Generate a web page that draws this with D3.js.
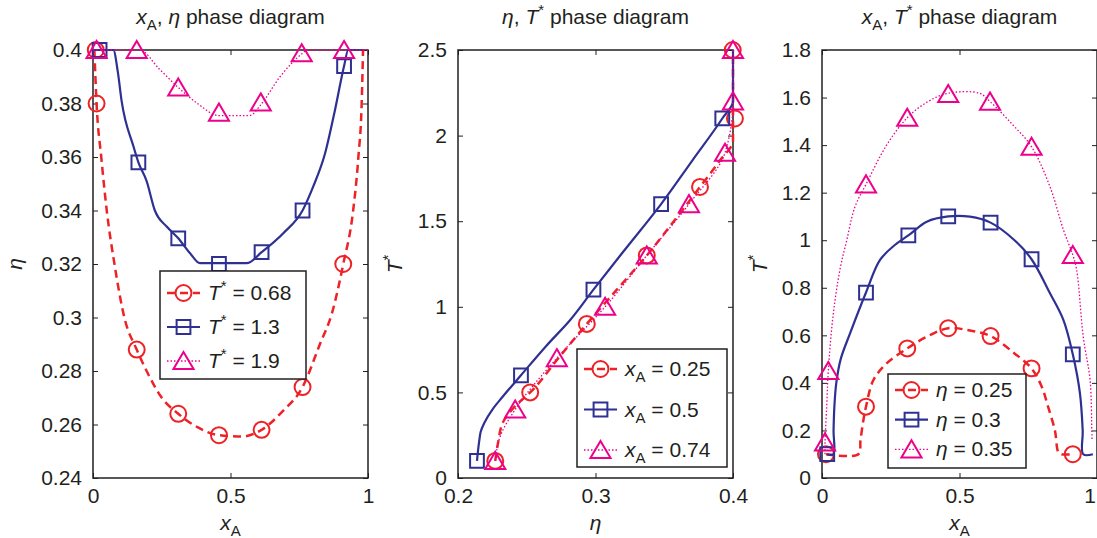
<!DOCTYPE html>
<html>
<head>
<meta charset="utf-8">
<script src="https://cdn.jsdelivr.net/npm/d3@7"></script>
<style>
  body { margin: 0; background: #fff; }
  svg { display: block; }
  text { font-family: "Liberation Sans", Arial, sans-serif; fill: #231f20; }
</style>
</head>
<body>
<div id="chart"></div>
<script>
// ---- panel 1: x_A vs eta ----
const p1XTicks = [0, 0.5, 1]
const p1YTicks = [0.24, 0.26, 0.28, 0.3, 0.32, 0.34, 0.36, 0.38, 0.4]
const p1Legend = ["0.68", "1.3", "1.9"]
const p1RedMarkX = [0.01, 0.013, 0.159, 0.31, 0.458, 0.613, 0.762, 0.91]
const p1RedMarkY = [0.4, 0.38, 0.288, 0.264, 0.256, 0.258, 0.274, 0.32]
const p1RedCurve = [[0.005, 0.4], [0.013, 0.38], [0.03, 0.36], [0.05, 0.34], [0.078, 0.32], [0.114, 0.3], [0.159, 0.288], [0.195, 0.28], [0.25, 0.27], [0.31, 0.264], [0.38, 0.259], [0.458, 0.256], [0.54, 0.2555], [0.613, 0.258], [0.69, 0.265], [0.762, 0.274], [0.825, 0.29], [0.87, 0.302], [0.91, 0.32], [0.946, 0.34], [0.965, 0.36], [0.977, 0.38], [0.982, 0.4]]
const p1BlueMarkX = [0.024, 0.165, 0.31, 0.458, 0.613, 0.762, 0.913]
const p1BlueMarkY = [0.4, 0.358, 0.3296, 0.32, 0.3244, 0.34, 0.394]
const p1BlueCurve = [[0, 0.4], [0.074, 0.4], [0.09, 0.392], [0.104, 0.381], [0.147, 0.364], [0.165, 0.358], [0.195, 0.351], [0.225, 0.34], [0.268, 0.334], [0.31, 0.3296], [0.353, 0.324], [0.389, 0.3203], [0.559, 0.3203], [0.613, 0.3244], [0.692, 0.3315], [0.762, 0.34], [0.801, 0.349], [0.844, 0.3614], [0.88, 0.3776], [0.913, 0.394], [0.928, 0.4], [0.98, 0.4]]
const p1MagMarkX = [0.013, 0.159, 0.31, 0.458, 0.61, 0.759, 0.913]
const p1MagMarkY = [0.4, 0.4, 0.386, 0.3766, 0.3804, 0.3988, 0.4]
const p1MagCurve = [[0, 0.4], [0.17, 0.4], [0.24, 0.393], [0.31, 0.386], [0.38, 0.38], [0.458, 0.3755], [0.57, 0.3755], [0.61, 0.3795], [0.68, 0.39], [0.759, 0.3985], [0.78, 0.4], [1, 0.4]]

// ---- panel 2: eta vs T* ----
const p2XTicks = [0.2, 0.3, 0.4]
const p2YTicks = [0, 0.5, 1, 1.5, 2, 2.5]
const p2Legend = ["0.25", "0.5", "0.74"]
const p2RedMarkX = [0.2271, 0.2525, 0.2937, 0.3373, 0.376, 0.4014, 0.3998]
const p2RedMarkY = [0.1, 0.5, 0.9, 1.3, 1.7, 2.1, 2.5]
const p2RedCurve = [[0.2271, 0.1], [0.229, 0.2], [0.233, 0.33], [0.2416, 0.42], [0.2525, 0.5], [0.273, 0.7], [0.2937, 0.9], [0.3155, 1.1], [0.3373, 1.3], [0.357, 1.5], [0.376, 1.7], [0.39, 1.85], [0.4, 1.97], [0.4, 2.5]]
const p2BlueMarkX = [0.2138, 0.2458, 0.2985, 0.3477, 0.3922]
const p2BlueMarkY = [0.1, 0.6, 1.1, 1.6, 2.1]
const p2BlueCurve = [[0.2138, 0.1], [0.2155, 0.22], [0.2165, 0.27], [0.219, 0.32], [0.225, 0.4], [0.232, 0.47], [0.2458, 0.6], [0.264, 0.77], [0.2816, 0.923], [0.2985, 1.1], [0.32, 1.32], [0.3477, 1.6], [0.37, 1.85], [0.3922, 2.1], [0.4, 2.2], [0.4, 2.5]]
const p2MagMarkX = [0.2271, 0.2416, 0.2719, 0.307, 0.3373, 0.368, 0.3942, 0.4, 0.4]
const p2MagMarkY = [0.1, 0.4, 0.7, 1.0, 1.3, 1.6, 1.9, 2.2, 2.5]
const p2MagCurve = [[0.2271, 0.1], [0.231, 0.25], [0.2416, 0.4], [0.2719, 0.7], [0.307, 1.0], [0.3373, 1.3], [0.368, 1.6], [0.3942, 1.9], [0.4, 2.2], [0.4, 2.5]]

// ---- panel 3: x_A vs T* ----
const p3XTicks = [0, 0.5, 1]
const p3YTicks = [0, 0.2, 0.4, 0.6, 0.8, 1, 1.2, 1.4, 1.6, 1.8]
const p3Legend = ["0.25", "0.3", "0.35"]
const p3RedMarkX = [0.0145, 0.16, 0.31, 0.459, 0.613, 0.762, 0.912]
const p3RedMarkY = [0.1, 0.3, 0.545, 0.63, 0.597, 0.461, 0.1]
const p3RedCurve = [[0.0145, 0.1], [0.132, 0.1], [0.14, 0.16], [0.15, 0.24], [0.16, 0.3], [0.187, 0.412], [0.235, 0.482], [0.31, 0.545], [0.381, 0.594], [0.459, 0.63], [0.538, 0.62], [0.613, 0.597], [0.7, 0.524], [0.762, 0.461], [0.799, 0.384], [0.822, 0.3], [0.847, 0.2], [0.859, 0.11], [0.87, 0.1], [0.912, 0.1]]
const p3BlueMarkX = [0.019, 0.16, 0.314, 0.459, 0.613, 0.762, 0.912]
const p3BlueMarkY = [0.1, 0.78, 1.02, 1.1, 1.074, 0.92, 0.52]
const p3BlueCurve = [[0.019, 0.1], [0.041, 0.1], [0.042, 0.2], [0.045, 0.3], [0.052, 0.4], [0.068, 0.5], [0.102, 0.608], [0.16, 0.78], [0.211, 0.917], [0.265, 0.98], [0.314, 1.02], [0.381, 1.078], [0.459, 1.1], [0.538, 1.099], [0.613, 1.074], [0.7, 1.0], [0.762, 0.92], [0.829, 0.777], [0.878, 0.664], [0.912, 0.52], [0.938, 0.356], [0.948, 0.2], [0.95, 0.1], [0.985, 0.1]]
const p3MagMarkX = [0.011, 0.023, 0.16, 0.31, 0.459, 0.611, 0.762, 0.912]
const p3MagMarkY = [0.15, 0.45, 1.235, 1.515, 1.615, 1.583, 1.393, 0.938]
const p3MagCurve = [[0.011, 0.1], [0.011, 0.15], [0.017, 0.3], [0.023, 0.45], [0.04, 0.68], [0.065, 0.875], [0.09, 1.0], [0.12, 1.141], [0.16, 1.235], [0.235, 1.4], [0.31, 1.515], [0.381, 1.58], [0.459, 1.618], [0.573, 1.618], [0.611, 1.583], [0.69, 1.49], [0.762, 1.393], [0.829, 1.225], [0.878, 1.043], [0.912, 0.938], [0.926, 0.875], [0.95, 0.594], [0.975, 0.41], [0.981, 0.2], [0.982, 0.16]]

const RED = "#ee2226", BLUE = "#2e3192", MAG = "#ec008c"
const width = 1097, height = 538
const plotTop = 50, plotBottom = 478
const FONT = "21px"

const svg = d3.select("#chart").append("svg")
  .attr("width", width)
  .attr("height", height)

// custom triangle so the marker is centred on its box like matlab's '^'
const triangleSym = {
  draw(ctx, size) {
    const w = Math.sqrt(size) * 0.75
    ctx.moveTo(0, -w * 0.9)
    ctx.lineTo(w, w * 0.8)
    ctx.lineTo(-w, w * 0.8)
    ctx.closePath()
  }
}
const markerPath = {
  circle: d3.symbol(d3.symbolCircle, 200)(),
  square: d3.symbol(d3.symbolSquare, 190)(),
  triangle: d3.symbol(triangleSym, 180)()
}
const lineStyle = {
  red: { color: RED, width: 2.5, dash: "8,5", marker: "circle" },
  blue: { color: BLUE, width: 2.2, dash: null, marker: "square" },
  mag: { color: MAG, width: 1.3, dash: "1.5,2", marker: "triangle" }
}

// text with italic / sub / sup pieces
function rich(textSel, parts) {
  let shift = 0
  parts.forEach(([t, k]) => {
    const target = k === "sub" ? 6 : k === "sup" ? -9 : 0
    const ts = textSel.append("tspan").text(t).attr("dy", target - shift)
    if (k === "i") ts.attr("font-style", "italic")
    if (k === "sub" || k === "sup") ts.attr("font-size", "15px")
    shift = target
  })
}

const fmt = d => String(+d.toFixed(2))

function drawPanel(cfg) {
  const x = d3.scaleLinear().domain(cfg.xDomain).range([cfg.left, cfg.right])
  const y = d3.scaleLinear().domain(cfg.yDomain).range([plotBottom, plotTop])
  const g = svg.append("g")

  // box
  g.append("rect")
    .attr("x", cfg.left).attr("y", plotTop)
    .attr("width", cfg.right - cfg.left).attr("height", plotBottom - plotTop)
    .attr("fill", "none").attr("stroke", "#231f20").attr("stroke-width", 1.5)

  const styleAxis = a => {
    a.select(".domain").remove()
    a.selectAll("line").attr("stroke", "#231f20").attr("stroke-width", 1)
    a.selectAll("text").attr("font-size", FONT).attr("fill", "#231f20")
      .attr("font-family", "Liberation Sans, Arial, sans-serif")
  }

  const xAxis = g.append("g").attr("transform", `translate(0,${plotBottom})`)
    .call(d3.axisBottom(x).tickValues(cfg.xTicks).tickFormat(fmt).tickSizeInner(-5).tickSizeOuter(0).tickPadding(10))
    .call(styleAxis)
  // a label sitting on the window edge is pulled inside it
  xAxis.selectAll(".tick text")
    .filter(d => x(d) >= width - 2)
    .attr("text-anchor", "end").attr("dx", -1.5)
  g.append("g").attr("transform", `translate(0,${plotTop})`)
    .call(d3.axisTop(x).tickValues(cfg.xTicks).tickFormat("").tickSizeInner(-5).tickSizeOuter(0))
    .call(styleAxis)
  g.append("g").attr("transform", `translate(${cfg.left},0)`)
    .call(d3.axisLeft(y).tickValues(cfg.yTicks).tickFormat(fmt).tickSizeInner(-5).tickSizeOuter(0).tickPadding(11))
    .call(styleAxis)
  g.append("g").attr("transform", `translate(${cfg.right},0)`)
    .call(d3.axisRight(y).tickValues(cfg.yTicks).tickFormat("").tickSizeInner(-5).tickSizeOuter(0))
    .call(styleAxis)

  // title and axis labels
  rich(g.append("text").attr("x", (cfg.left + cfg.right) / 2).attr("y", 24)
    .attr("text-anchor", "middle").attr("font-size", FONT), cfg.title)
  rich(g.append("text").attr("x", (cfg.left + cfg.right) / 2).attr("y", 530)
    .attr("text-anchor", "middle").attr("font-size", FONT), cfg.xLabel)
  rich(g.append("text")
    .attr("transform", `translate(${cfg.yLabelX},${(plotTop + plotBottom) / 2}) rotate(-90)`)
    .attr("text-anchor", "middle").attr("font-size", FONT), cfg.yLabel)

  const line = d3.line().x(d => x(d[0])).y(d => y(d[1])).curve(cfg.curve)

  cfg.series.forEach(s => {
    const st = lineStyle[s.style]
    g.append("path")
      .datum(s.curve)
      .attr("fill", "none")
      .attr("stroke", st.color)
      .attr("stroke-width", st.width)
      .attr("stroke-dasharray", st.dash)
      .attr("d", line)
    g.selectAll(null)
      .data(d3.zip(s.mx, s.my))
      .enter()
      .append("path")
      .attr("transform", d => `translate(${x(d[0])},${y(d[1])})`)
      .attr("d", markerPath[st.marker])
      .attr("fill", "none")
      .attr("stroke", st.color)
      .attr("stroke-width", 2)
  })

  // legend
  const L = cfg.legend
  const lg = g.append("g")
  lg.append("rect")
    .attr("x", L.x).attr("y", L.y).attr("width", L.w).attr("height", L.h)
    .attr("fill", "#fff").attr("stroke", "#231f20").attr("stroke-width", 1.5)
  cfg.series.forEach((s, i) => {
    const st = lineStyle[s.style]
    const cy = L.y + L.first + i * L.step
    lg.append("line")
      .attr("x1", L.x + 7).attr("x2", L.x + 40).attr("y1", cy).attr("y2", cy)
      .attr("stroke", st.color).attr("stroke-width", st.width)
      .attr("stroke-dasharray", st.dash)
    lg.append("path")
      .attr("transform", `translate(${L.x + 23.5},${cy})`)
      .attr("d", markerPath[st.marker])
      .attr("fill", "none").attr("stroke", st.color).attr("stroke-width", 2)
    rich(lg.append("text").attr("x", L.x + 48).attr("y", cy + 7).attr("font-size", FONT),
      cfg.legendParts(cfg.legendValues[i]))
  })
}

drawPanel({
  left: 93, right: 368,
  xDomain: [0, 1], yDomain: [0.24, 0.4],
  xTicks: p1XTicks, yTicks: p1YTicks,
  title: [["x", "i"], ["A", "sub"], [", ", ""], ["η", "i"], [" phase diagram", ""]],
  xLabel: [["x", "i"], ["A", "sub"]],
  yLabel: [["η", "i"]],
  yLabelX: 22,
  curve: d3.curveMonotoneX,
  series: [
    { style: "red", mx: p1RedMarkX, my: p1RedMarkY, curve: p1RedCurve },
    { style: "blue", mx: p1BlueMarkX, my: p1BlueMarkY, curve: p1BlueCurve },
    { style: "mag", mx: p1MagMarkX, my: p1MagMarkY, curve: p1MagCurve }
  ],
  legend: { x: 160, y: 271, w: 146, h: 108, first: 22, step: 34 },
  legendValues: p1Legend,
  legendParts: v => [["T", "i"], ["*", "sup"], [" = " + v, ""]]
})

drawPanel({
  left: 458, right: 733,
  xDomain: [0.2, 0.4], yDomain: [0, 2.5],
  xTicks: p2XTicks, yTicks: p2YTicks,
  title: [["η", "i"], [", ", ""], ["T", "i"], ["*", "sup"], [" phase diagram", ""]],
  xLabel: [["η", "i"]],
  yLabel: [["T", "i"], ["*", "sup"]],
  yLabelX: 402,
  curve: d3.curveMonotoneY,
  series: [
    { style: "red", mx: p2RedMarkX, my: p2RedMarkY, curve: p2RedCurve },
    { style: "blue", mx: p2BlueMarkX, my: p2BlueMarkY, curve: p2BlueCurve },
    { style: "mag", mx: p2MagMarkX, my: p2MagMarkY, curve: p2MagCurve }
  ],
  legend: { x: 577, y: 349, w: 150, h: 118, first: 20, step: 40.5 },
  legendValues: p2Legend,
  legendParts: v => [["x", "i"], ["A", "sub"], [" = " + v, ""]]
})

drawPanel({
  left: 822, right: 1097,
  xDomain: [0, 1], yDomain: [0, 1.8],
  xTicks: p3XTicks, yTicks: p3YTicks,
  title: [["x", "i"], ["A", "sub"], [", ", ""], ["T", "i"], ["*", "sup"], [" phase diagram", ""]],
  xLabel: [["x", "i"], ["A", "sub"]],
  yLabel: [["T", "i"], ["*", "sup"]],
  yLabelX: 767,
  curve: d3.curveCatmullRom.alpha(0.5),
  series: [
    { style: "red", mx: p3RedMarkX, my: p3RedMarkY, curve: p3RedCurve },
    { style: "blue", mx: p3BlueMarkX, my: p3BlueMarkY, curve: p3BlueCurve },
    { style: "mag", mx: p3MagMarkX, my: p3MagMarkY, curve: p3MagCurve }
  ],
  legend: { x: 888, y: 374, w: 138, h: 94, first: 16, step: 29.7 },
  legendValues: p3Legend,
  legendParts: v => [["η", "i"], [" = " + v, ""]]
})
</script>
</body>
</html>
